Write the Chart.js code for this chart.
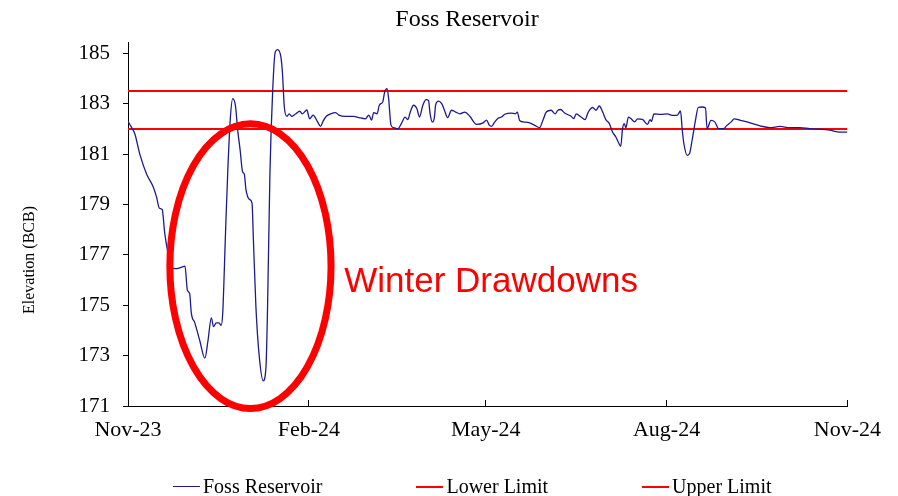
<!DOCTYPE html>
<html>
<head>
<meta charset="utf-8">
<title>Foss Reservoir</title>
<script src="https://cdn.jsdelivr.net/npm/chart.js@4.4.1/dist/chart.umd.min.js"></script>
<style>
  body { margin: 0; background: #fff; }
  #wrap { position: relative; width: 898px; height: 496px; }
  #legend {
    position: absolute; left: 173px; top: 475px;
    display: flex; gap: 94px; align-items: center;
    font: 20px "Liberation Serif", serif; color: #000;
  }
  #legend .item { display: flex; align-items: center; white-space: nowrap; }
  #legend .swatch { display: inline-block; width: 27px; margin-right: 3px; }
</style>
</head>
<body>
<div id="wrap">
  <canvas id="chart"></canvas>
  <div id="legend"></div>
</div>
<script>
// days since 1 Nov 2023
const dayOffsets = [
  0, 1.5, 3.5, 6, 9.5, 12.8, 14.5, 16, 17.4, 18.7, 20.4, 22, 24, 27, 29, 30.2, 31.4, 32.2, 34, 36.5,
  39.1, 40.7, 42.4, 43.5, 44.9, 46.3, 47.4, 48.2, 49.6, 50.7, 52, 53.3, 54.7, 55.8, 57, 58.3, 59.2, 60,
  61.8, 63.1, 63.8, 65.1, 66.8, 68.8, 70.2, 71, 72.2, 73.6, 74.9, 76.1, 77.8, 78.6, 79.5, 80.8, 82,
  83.4, 85.4, 87.4, 88.7, 91, 92.4, 94.2, 96.3, 98, 99.2, 100.9, 103.1, 105.6, 107.3, 110.7, 114.9,
  117.4, 120.8, 122.5, 123.9, 125, 126.7, 127.9, 129.6, 130.6, 131.8, 132.6, 133.8, 135.2, 137.2, 139,
  141, 142.4, 143.6, 145.3, 147, 148.3, 150, 151.7, 152.9, 153.7, 154.9, 155.9, 156.5, 157.9, 159.6,
  161, 162.6, 164.6, 166.7, 168.9, 171.4, 173.9, 177.3, 180.7, 182.4, 183.8, 184.9, 186.6, 188.3, 190,
  191.7, 195, 197.1, 198.1, 199.2, 201, 204.3, 206.9, 209.4, 211.1, 212.8, 215.3, 217.3, 218.7, 220.1,
  222.1, 225.4, 226.8, 228, 230.5, 232.5, 234.2, 236.4, 238.1, 239.8, 241.5, 243.1, 244.9, 246.5,
  248.2, 249.4, 250.7, 251.6, 252.5, 253.3, 254.6, 255.8, 257.8, 259.2, 261.7, 264.3, 265.6, 266.3,
  267.6, 271, 274.4, 276.9, 279.4, 281.1, 282, 282.8, 284.5, 285.7, 287, 288.7, 290.1, 292.1, 293.8,
  294.6, 296.6, 298.5, 300.5, 303, 304.7, 306.9, 308.4, 311.5, 316.5, 321.6, 326.7, 331.7, 336.8,
  341.9, 346.9, 352, 357, 362.1, 366
];
const elevation = [
  182.3, 182.1, 181.8, 181.0, 180.2, 179.7, 179.3, 178.85, 178.8, 177.85, 177.05, 176.5, 176.45, 176.5,
  176.55, 175.6, 175.45, 174.7, 174.3, 173.6, 172.9, 173.6, 174.5, 174.15, 174.3, 174.3, 174.2, 174.7,
  177.85, 180.2, 182.35, 183.2, 182.9, 181.95, 181.2, 180.3, 180.2, 179.6, 179.2, 179.05, 177.6, 174.9,
  172.95, 172.0, 172.55, 174.9, 180.2, 183.5, 185.05, 185.15, 184.85, 184.2, 182.9, 182.5, 182.6, 182.5,
  182.6, 182.7, 182.6, 182.75, 182.4, 182.55, 182.3, 182.1, 182.3, 182.5, 182.6, 182.65, 182.55, 182.5,
  182.5, 182.45, 182.4, 182.55, 182.35, 182.65, 182.6, 182.95, 183.07, 183.47, 183.6, 183.2, 182.15,
  182.05, 182.0, 182.2, 182.47, 182.37, 182.67, 182.94, 182.8, 182.47, 182.94, 183.16, 183.13, 182.6,
  182.27, 182.47, 182.94, 183.1, 183.0, 182.74, 182.45, 182.74, 182.67, 182.6, 182.67, 182.5, 182.18,
  182.24, 182.35, 182.15, 182.1, 182.28, 182.42, 182.47, 182.58, 182.63, 182.6, 182.67, 182.34, 182.28,
  182.24, 182.14, 182.05, 182.34, 182.67, 182.74, 182.6, 182.74, 182.77, 182.63, 182.5, 182.41, 182.6,
  182.47, 182.37, 182.67, 182.85, 182.74, 182.91, 182.67, 182.37, 182.21, 181.88, 181.68, 181.48, 181.31,
  182.01, 182.21, 182.05, 182.47, 182.41, 182.28, 182.4, 182.38, 182.18, 182.37, 182.3, 182.6, 182.58,
  182.6, 182.54, 182.54, 182.71, 181.95, 181.42, 180.95, 181.02, 181.55, 182.34, 182.85, 182.87, 182.83,
  182.01, 182.34, 182.28, 182.01, 182.01, 182.14, 182.28, 182.4, 182.34, 182.24, 182.12, 182.05, 182.1,
  182.05, 182.05, 182.01, 181.99, 181.95, 181.87, 181.87
];
const lowerLimit = 182;
const upperLimit = 183.5;

const xTickDays = [0, 92, 182, 274, 366];
const xTickLabels = ['Nov-23', 'Feb-24', 'May-24', 'Aug-24', 'Nov-24'];
const yTicks = [171, 173, 175, 177, 179, 181, 183, 185];

const seriesNames = ['Foss Reservoir', 'Lower Limit', 'Upper Limit'];
const chartTitle = 'Foss Reservoir';
const yTitle = 'Elevation (BCB)';

const SERIF = '"Liberation Serif", "Times New Roman", serif';

const spanLine = v => [{ x: xTickDays[0], y: v }, { x: xTickDays[xTickDays.length - 1], y: v }];

// red ring + caption over the winter dip, placed in data units
const drawdownNote = {
  id: 'drawdownNote',
  afterDatasetsDraw(chart) {
    const { ctx, scales: { x, y } } = chart;
    const cx = x.getPixelForValue(62.3), cy = y.getPixelForValue(176.55);
    const rx = x.getPixelForValue(62.3 + 41) - cx;
    const ry = y.getPixelForValue(176.55 - 5.65) - cy;
    ctx.save();
    ctx.strokeStyle = '#ff0000';
    ctx.lineWidth = 7;
    ctx.beginPath();
    ctx.ellipse(cx, cy, rx, ry, 0, 0, Math.PI * 2);
    ctx.stroke();
    ctx.fillStyle = '#ff0000';
    ctx.font = '35px "Liberation Sans", Arial, sans-serif';
    ctx.textBaseline = 'alphabetic';
    ctx.fillText('Winter Drawdowns', x.getPixelForValue(110), y.getPixelForValue(175.52));
    ctx.restore();
  }
};

// chart title and y axis title: the original puts both a bit off the
// centres Chart.js would use, so they are drawn here
const titles = {
  id: 'titles',
  afterDraw(chart) {
    const { ctx, chartArea, width } = chart;
    ctx.save();
    ctx.fillStyle = '#000';
    ctx.textAlign = 'center';
    ctx.textBaseline = 'middle';
    ctx.font = '24px ' + SERIF;
    ctx.fillText(chartTitle, width / 2 + 18, 20);
    ctx.translate(30, (chartArea.top + chartArea.bottom) / 2 + 36);
    ctx.rotate(-Math.PI / 2);
    ctx.font = '16px ' + SERIF;
    ctx.fillText(yTitle, 0, 0);
    ctx.restore();
  }
};

const chart = new Chart(document.getElementById('chart'), {
  type: 'line',
  data: {
    datasets: [
      {
        label: seriesNames[0],
        data: dayOffsets.map((d, i) => ({ x: d, y: elevation[i] })),
        borderColor: '#1b1b8e',
        borderWidth: 1.3,
        pointRadius: 0,
        cubicInterpolationMode: 'monotone'
      },
      {
        label: seriesNames[1],
        data: spanLine(lowerLimit),
        borderColor: '#ff0000',
        borderWidth: 2,
        pointRadius: 0
      },
      {
        label: seriesNames[2],
        data: spanLine(upperLimit),
        borderColor: '#ff0000',
        borderWidth: 2,
        pointRadius: 0
      }
    ]
  },
  options: {
    responsive: true,
    maintainAspectRatio: false,
    animation: false,
    layout: { padding: { left: 0, right: 47, top: 42, bottom: 54 } },
    plugins: {
      legend: { display: false },
      tooltip: { enabled: false },
      title: { display: false }
    },
    scales: {
      x: {
        type: 'linear',
        min: xTickDays[0],
        max: xTickDays[xTickDays.length - 1],
        afterBuildTicks: s => { s.ticks = xTickDays.map(v => ({ value: v })); },
        afterFit: s => { s.height = 36; },
        ticks: {
          autoSkip: false,
          maxRotation: 0,
          padding: 17,
          color: '#000',
          font: { family: SERIF, size: 22 },
          callback: (v, i) => xTickLabels[i]
        },
        grid: { drawOnChartArea: false, tickLength: -6, color: '#000' },
        border: { color: '#000', width: 1 }
      },
      y: {
        min: 171,
        max: 185.45,
        afterBuildTicks: s => { s.ticks = yTicks.map(v => ({ value: v })); },
        afterFit: s => { s.width = 128; },
        ticks: {
          padding: 13,
          color: '#000',
          font: { family: SERIF, size: 21 }
        },
        grid: { drawOnChartArea: false, tickLength: 5, color: '#000' },
        border: { color: '#000', width: 1 }
      }
    }
  },
  plugins: [drawdownNote, titles]
});

// legend row under the plot, built from the datasets
const legendEl = document.getElementById('legend');
chart.data.datasets.forEach(ds => {
  const item = document.createElement('span');
  item.className = 'item';
  const sw = document.createElement('span');
  sw.className = 'swatch';
  sw.style.borderTop = ds.borderWidth + 'px solid ' + ds.borderColor;
  item.appendChild(sw);
  item.appendChild(document.createTextNode(ds.label));
  legendEl.appendChild(item);
});
</script>
</body>
</html>
